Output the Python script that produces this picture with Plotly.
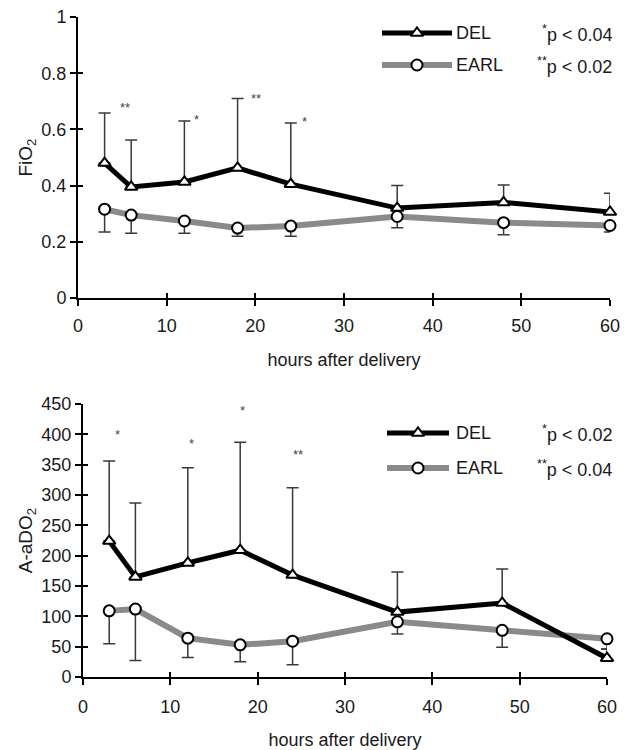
import plotly.graph_objects as go

# ---------------- data ----------------
hours = [3, 6, 12, 18, 24, 36, 48, 60]

fio2_del = [0.48, 0.395, 0.413, 0.463, 0.405, 0.32, 0.34, 0.306]
fio2_del_upper = [0.658, 0.562, 0.63, 0.71, 0.623, 0.40, 0.402, 0.373]
fio2_earl = [0.316, 0.295, 0.274, 0.249, 0.256, 0.29, 0.268, 0.258]
fio2_earl_lower = [0.235, 0.23, 0.23, 0.22, 0.22, 0.25, 0.225, 0.235]

aado2_del = [224, 165, 188, 209, 168, 107, 122, 31]
aado2_del_upper = [356, 287, 345, 387, 312, 173, 178, 46]
aado2_earl = [109, 112, 64, 53, 59, 91, 77, 63]
aado2_earl_lower = [55, 27, 32, 25, 20, 71, 49, 46]

fio2_sig_x = [5.3, 13.4, 20.1, 25.5]
fio2_sig_y = [0.69, 0.645, 0.72, 0.64]
fio2_sig_text = ["**", "*", "**", "*"]

aado2_sig_x = [3.9, 12.4, 18.3, 24.6]
aado2_sig_y = [404, 390, 445, 372]
aado2_sig_text = ["*", "*", "*", "**"]

x_ticks = [0, 10, 20, 30, 40, 50, 60]
fio2_ticks = [0, 0.2, 0.4, 0.6, 0.8, 1]
fio2_ticktext = ["0", "0.2", "0.4", "0.6", "0.8", "1"]
aado2_ticks = [0, 50, 100, 150, 200, 250, 300, 350, 400, 450]

series_names = ["DEL", "EARL"]
top_pvals = ["p < 0.04", "p < 0.02"]
bottom_pvals = ["p < 0.02", "p < 0.04"]
star_labels = ["*", "**"]

# ---------------- style / layout ----------------
W, H = 634, 750
FONT = "Liberation Sans, Arial, Helvetica, sans-serif"
BLACK = "#000000"
GRAY = "#8a8a8a"
ERR = "#3a3a3a"
TXT = "#1a1a1a"
TICK_FONT = dict(size=18, color=TXT, family=FONT)

DEL_STYLE = dict(line=dict(color=BLACK, width=5), symbol="triangle-up")
EARL_STYLE = dict(line=dict(color=GRAY, width=6), symbol="circle")
MSIZE = 11

# legend key placement (pixels from top-left): line x-span, rows y
LEG_TOP = dict(x0=382, x1=452, rows=(33, 65), text_x=454, p_right=614)
LEG_BOT = dict(x0=387, x1=449, rows=(433, 468), text_x=454, p_right=614)


def up(vals, tops):
    return [t - v for v, t in zip(vals, tops)]


def down(vals, bots):
    return [v - b for v, b in zip(vals, bots)]


zeros = [0] * len(hours)

fig = go.Figure()


def marker_of(style):
    return dict(symbol=style["symbol"], size=MSIZE, color="white",
                line=dict(color=BLACK, width=2))


def add_pair(xa, ya, d_vals, d_up, e_vals, e_low):
    fig.add_trace(go.Scatter(
        x=hours, y=e_vals, mode="lines+markers", name="EARL",
        xaxis=xa, yaxis=ya, showlegend=False,
        line=EARL_STYLE["line"], marker=marker_of(EARL_STYLE),
        error_y=dict(type="data", symmetric=False, array=zeros,
                     arrayminus=down(e_vals, e_low), color=ERR,
                     thickness=1.5, width=6),
        cliponaxis=False,
    ))
    fig.add_trace(go.Scatter(
        x=hours, y=d_vals, mode="lines+markers", name="DEL",
        xaxis=xa, yaxis=ya, showlegend=False,
        line=DEL_STYLE["line"], marker=marker_of(DEL_STYLE),
        error_y=dict(type="data", symmetric=False, array=up(d_vals, d_up),
                     arrayminus=zeros, color=ERR, thickness=1.5, width=6),
        cliponaxis=False,
    ))


add_pair("x", "y", fio2_del, fio2_del_upper, fio2_earl, fio2_earl_lower)
add_pair("x2", "y2", aado2_del, aado2_del_upper, aado2_earl, aado2_earl_lower)

annotations = []

# significance stars
for xs, ys, ts, xr, yr in [(fio2_sig_x, fio2_sig_y, fio2_sig_text, "x", "y"),
                           (aado2_sig_x, aado2_sig_y, aado2_sig_text, "x2", "y2")]:
    for xv, yv, t in zip(xs, ys, ts):
        annotations.append(dict(x=xv, y=yv, xref=xr, yref=yr, text=t,
                                showarrow=False, yshift=-3,
                                font=dict(size=13, color="#444", family=FONT)))

# hand-drawn legends (line key with marker in the middle) on a pixel overlay axis
for leg, pvals in [(LEG_TOP, top_pvals), (LEG_BOT, bottom_pvals)]:
    for name, style, yy, star, p in zip(series_names, [DEL_STYLE, EARL_STYLE],
                                        leg["rows"], star_labels, pvals):
        xm = (leg["x0"] + leg["x1"]) / 2
        fig.add_trace(go.Scatter(
            x=[leg["x0"], leg["x1"]], y=[yy, yy],
            xaxis="x5", yaxis="y5", mode="lines", showlegend=False,
            hoverinfo="skip", line=style["line"], cliponaxis=False))
        fig.add_trace(go.Scatter(
            x=[xm], y=[yy],
            xaxis="x5", yaxis="y5", mode="markers", showlegend=False,
            hoverinfo="skip", marker=marker_of(style), cliponaxis=False))
        annotations.append(dict(
            x=leg["text_x"], y=yy, xref="x5", yref="y5", xanchor="left",
            yanchor="middle", showarrow=False, text=name,
            font=dict(size=18, color=TXT, family=FONT)))
        annotations.append(dict(
            x=leg["p_right"], y=yy, xref="x5", yref="y5", xanchor="right",
            yanchor="middle", showarrow=False,
            text=f"<sup>{star}</sup>{p}",
            font=dict(size=18, color=TXT, family=FONT)))

axis_common = dict(showline=True, linecolor=BLACK, linewidth=2, showgrid=False,
                   zeroline=False, ticks="outside", ticklen=6, tickwidth=2,
                   tickcolor=BLACK, tickfont=TICK_FONT, automargin=False)
overlay_common = dict(showline=False, showgrid=False, zeroline=False,
                      ticks="inside", ticklen=5, tickwidth=2, tickcolor=BLACK,
                      showticklabels=False, automargin=False)

top_y0, top_y1 = 1 - 298 / H, 1 - 17 / H
bot_y0, bot_y1 = 1 - 677 / H, 1 - 404 / H

fig.update_layout(
    width=W, height=H, margin=dict(l=0, r=0, t=0, b=0, autoexpand=False),
    paper_bgcolor="white", plot_bgcolor="rgba(0,0,0,0)",
    font=dict(family=FONT, color=TXT),
    annotations=annotations,
    xaxis=dict(domain=[78 / W, 610 / W], anchor="y", range=[0, 60],
               tickvals=x_ticks, ticklabelstandoff=4,
               title=dict(text="hours after delivery", standoff=19,
                          font=dict(size=18, family=FONT, color=TXT)),
               **axis_common),
    yaxis=dict(domain=[top_y0, top_y1], anchor="x", range=[0, 1],
               tickvals=fio2_ticks, ticktext=fio2_ticktext,
               title=dict(text="FiO<sub>2</sub>", standoff=4,
                          font=dict(size=19, family=FONT, color=TXT)),
               **axis_common),
    xaxis2=dict(domain=[83 / W, 607 / W], anchor="y2", range=[0, 60],
                tickvals=x_ticks, ticklabelstandoff=6,
                title=dict(text="hours after delivery", standoff=19,
                           font=dict(size=18, family=FONT, color=TXT)),
                **axis_common),
    yaxis2=dict(domain=[bot_y0, bot_y1], anchor="x2", range=[0, 450],
                tickvals=aado2_ticks,
                title=dict(text="A-aDO<sub>2</sub>", standoff=4,
                           font=dict(size=19, family=FONT, color=TXT)),
                **axis_common),
    xaxis3=dict(overlaying="x", anchor="y", range=[0, 60], tickvals=x_ticks,
                **overlay_common),
    yaxis3=dict(overlaying="y", anchor="x", range=[0, 1], tickvals=fio2_ticks,
                side="left", **overlay_common),
    xaxis4=dict(overlaying="x2", anchor="y2", range=[0, 60], tickvals=x_ticks,
                **overlay_common),
    yaxis4=dict(overlaying="y2", anchor="x2", range=[0, 450],
                tickvals=aado2_ticks, side="left", **overlay_common),
    xaxis5=dict(domain=[0, 1], anchor="y5", range=[0, W], visible=False,
                automargin=False),
    yaxis5=dict(domain=[0, 1], anchor="x5", range=[H, 0], visible=False,
                automargin=False),
)

# invisible helper traces so the overlay tick axes are drawn
for xa, ya, yr in [("x3", "y3", [0, 1]), ("x4", "y4", [0, 450])]:
    fig.add_trace(go.Scatter(x=[0], y=[yr[0]], xaxis=xa, yaxis=ya, mode="markers",
                             marker=dict(opacity=0), showlegend=False,
                             hoverinfo="skip"))

fig.write_html("out.html",
               config={"displayModeBar": False, "staticPlot": True},
               post_script="document.body.style.margin='0';"
                           "document.body.style.overflow='hidden';")
